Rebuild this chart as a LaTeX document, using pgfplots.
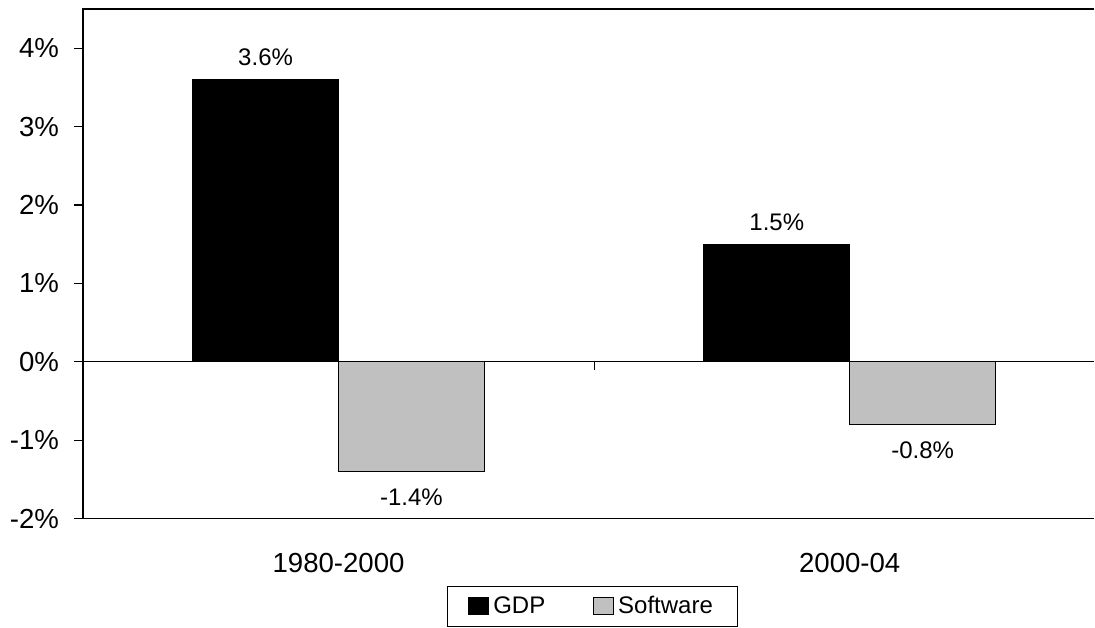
\documentclass[border=0pt]{standalone}
\usepackage{pgfplots}
\pgfplotsset{compat=1.18}
\usepackage{fontspec}
\setmainfont{Liberation Sans}
\definecolor{swgray}{RGB}{192,192,192}
\begin{document}
\begin{tikzpicture}
\begin{axis}[
  name=ax,
  scale only axis, width=506pt, height=255pt,
  xmin=-0.5, xmax=1.4785, ymin=-2, ymax=4.5,
  clip=false,
  ybar=0pt, bar width=73pt,
  axis line style={draw=none},
  ytick={-2,-1,0,1,2,3,4},
  yticklabels={-2\%,-1\%,0\%,1\%,2\%,3\%,4\%},
  ytick pos=left, tick align=outside, major tick length=4.5pt,
  y tick style={black, line width=0.6pt},
  yticklabel style={xshift=-4pt},
  xtick={0,1}, xticklabels={1980-2000,2000-04},
  x tick style={draw=none},
  xticklabel shift=9.5pt,
  tick label style={font=\fontsize{13.8pt}{16pt}\selectfont},
  nodes near coords={\pgfmathprintnumber[fixed,fixed zerofill,precision=1,assume math mode=true]{\pgfplotspointmeta}\%},
  every node near coord/.append style={font=\fontsize{12pt}{14pt}\selectfont, black},
  legend columns=2,
  legend style={at={(axis description cs:0,0)}, anchor=north west, xshift=182pt, yshift=-33.5pt,
    draw=black, line width=0.6pt, font=\fontsize{12pt}{14pt}\selectfont,
    inner xsep=10.5pt, inner ysep=3pt,
    /tikz/every even column/.append style={column sep=22pt}},
  legend image code/.code={\draw[#1,line width=0.5pt] (0pt,-4.25pt) rectangle (10pt,4.25pt);},
]
\addplot[fill=black, draw=black, line width=0.5pt, every node near coord/.append style={yshift=3.2pt}]
  coordinates {(0,3.6) (1,1.5)};
\addplot[fill=swgray, draw=black, line width=0.5pt, every node near coord/.append style={yshift=-5.2pt}]
  coordinates {(0,-1.4) (1,-0.8)};
\legend{GDP,Software}
\draw[line width=0.7pt] (rel axis cs:0,0) -- (rel axis cs:0,1) -- (rel axis cs:1,1);
\draw[line width=0.7pt] (rel axis cs:0,0) -- (rel axis cs:1,0);
\draw[line width=0.5pt] (axis cs:-0.5,0) -- (axis cs:1.4785,0);
\draw[line width=0.6pt] (axis cs:0.5,0) -- ([yshift=-4pt]axis cs:0.5,0);
\end{axis}
\path ([xshift=-41.5pt,yshift=4pt]ax.north west) rectangle ([yshift=-53pt]ax.south east);
\end{tikzpicture}
\end{document}
